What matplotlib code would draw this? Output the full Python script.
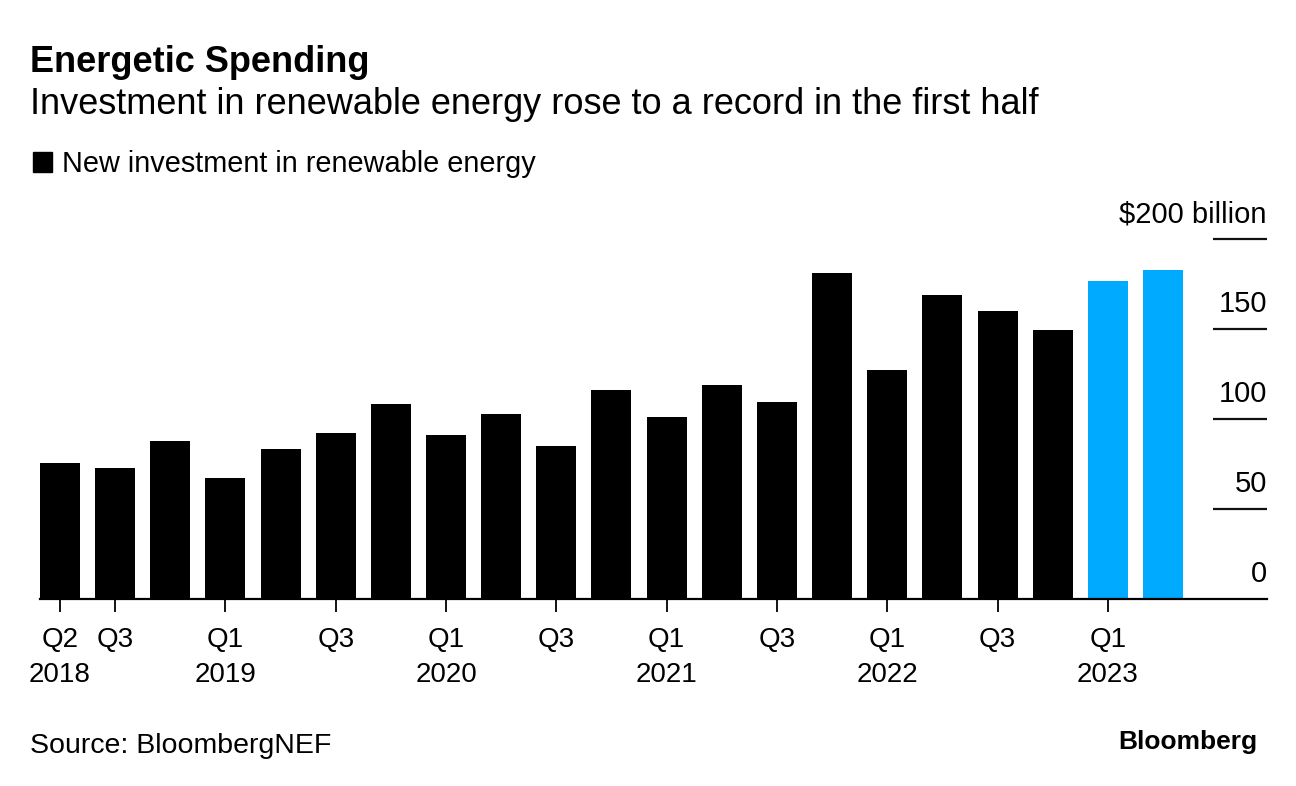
import matplotlib.pyplot as plt
from matplotlib.patches import Patch

plt.rcParams['font.family'] = ['Liberation Sans', 'DejaVu Sans']

quarters = ['Q2 2018', 'Q3 2018', 'Q4 2018', 'Q1 2019', 'Q2 2019', 'Q3 2019', 'Q4 2019',
            'Q1 2020', 'Q2 2020', 'Q3 2020', 'Q4 2020', 'Q1 2021', 'Q2 2021', 'Q3 2021',
            'Q4 2021', 'Q1 2022', 'Q2 2022', 'Q3 2022', 'Q4 2022', 'Q1 2023', 'Q2 2023']
investment = [75.6, 72.8, 87.8, 67.2, 83.3, 92.2, 108.3,
              91.1, 102.8, 85.0, 116.1, 101.1, 118.9, 109.4,
              181.1, 127.2, 168.9, 160.0, 149.4, 176.7, 182.8]
highlighted = ['Q1 2023', 'Q2 2023']
tick_quarters = ['Q2 2018', 'Q3 2018', 'Q1 2019', 'Q3 2019', 'Q1 2020', 'Q3 2020',
                 'Q1 2021', 'Q3 2021', 'Q1 2022', 'Q3 2022', 'Q1 2023']
tick_labels = ['Q2\n2018', 'Q3', 'Q1\n2019', 'Q3', 'Q1\n2020', 'Q3',
               'Q1\n2021', 'Q3', 'Q1\n2022', 'Q3', 'Q1\n2023']
y_ticks = [0, 50, 100, 150, 200]
y_labels = ['0', '50', '100', '150', '$200 billion']

black = '#000000'
blue = '#00AAFF'

fig = plt.figure(figsize=(12.96, 7.86), dpi=100)
ax = fig.add_axes([40/1296, 1-599/786, (1267-40)/1296, (599-239)/786])

x = list(range(len(quarters)))
colors = [blue if q in highlighted else black for q in quarters]
ax.bar(x, investment, width=0.725, color=colors, zorder=2)

ax.set_xlim(-0.3625, 21.886)
ax.set_ylim(0, 200)

# short gridlines at the right side
ax.hlines(y_ticks[1:], 20.907, 21.886, color='#111111', lw=1.6, clip_on=False)
for v, lab in zip(y_ticks, y_labels):
    ax.text(21.886, v + 6, lab, ha='right', va='bottom', fontsize=21)

for s in ['top', 'right', 'left']:
    ax.spines[s].set_visible(False)
ax.spines['bottom'].set_linewidth(1.6)
ax.set_yticks([])

ax.set_xticks([quarters.index(q) for q in tick_quarters])
ax.set_xticklabels(tick_labels, fontsize=20, linespacing=1.45)
ax.tick_params(axis='x', length=9, width=1.3, pad=11)

fig.text(30/1296, 1-63/786, 'Energetic Spending', fontsize=26, fontweight='bold', va='center')
fig.text(30/1296, 1-105/786, 'Investment in renewable energy rose to a record in the first half',
         fontsize=26, va='center')
fig.legend(handles=[Patch(color=black, label='New investment in renewable energy')],
           loc='center left', bbox_to_anchor=(33/1296, 1-164/786), frameon=False,
           fontsize=20.8, handlelength=0.66, handleheight=0.66, handletextpad=0.35,
           borderpad=0, borderaxespad=0)
fig.text(30/1296, 1-746/786, 'Source: BloombergNEF', fontsize=20.5, va='center')
fig.text(1257/1296, 1-742/786, 'Bloomberg', fontsize=19, fontweight='bold', va='center', ha='right')

fig.savefig('out.png', dpi=100)
